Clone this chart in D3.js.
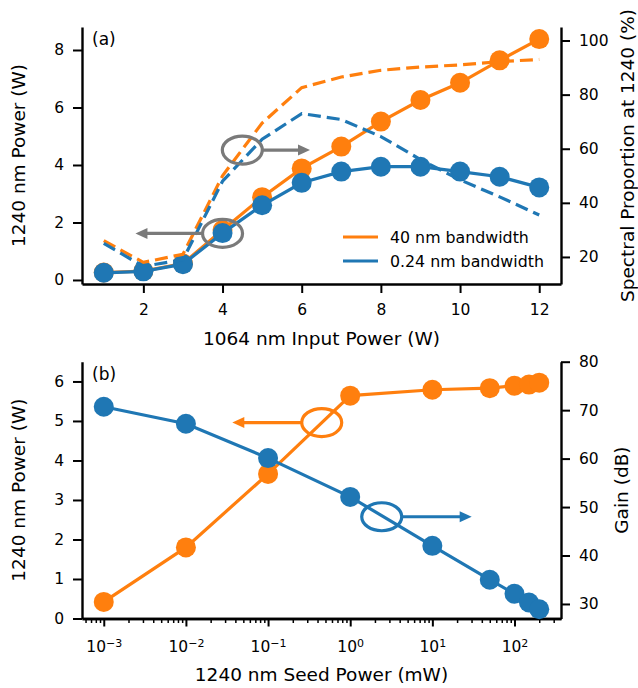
<!DOCTYPE html>
<html>
<head>
<meta charset="utf-8">
<script src="https://d3js.org/d3.v7.min.js"></script>
<style>
body { margin: 0; background: #fff; }
svg text { font-family: "DejaVu Sans", sans-serif; fill: #000; }
</style>
</head>
<body>
<div id="chart"></div>
<script>
// panel (a): 1064 nm pump sweep
var inputPower = [1, 2, 3, 4, 5, 6, 7, 8, 9, 10, 11, 12];
var power40 = [0.26, 0.31, 0.57, 1.74, 2.88, 3.88, 4.64, 5.51, 6.26, 6.86, 7.64, 8.38];
var power024 = [0.25, 0.30, 0.55, 1.63, 2.60, 3.38, 3.77, 3.94, 3.94, 3.77, 3.59, 3.22];
var spectral40 = [26, 18, 21, 50, 69.5, 82.6, 86.5, 89, 90.2, 91, 92.2, 93];
var spectral024 = [25, 16.5, 19, 48, 63.5, 73, 70.8, 64.5, 56, 48.5, 42.2, 35.5];
var xTicksA = [2, 4, 6, 8, 10, 12];
var yTicksA = [0, 2, 4, 6, 8];
var y2TicksA = [20, 40, 60, 80, 100];
var legendNames = ["40 nm bandwidth", "0.24 nm bandwidth"];

// panel (b): 1240 nm seed sweep
var seedPower = [0.001, 0.01, 0.1, 1, 10, 50, 100, 150, 200];
var outPower = [0.42, 1.80, 3.66, 5.64, 5.79, 5.83, 5.89, 5.92, 5.97];
var gainDb = [70.7, 67.2, 60.1, 52.1, 42.0, 35.0, 32.1, 30.3, 28.9];
var xTicksB = [-3, -2, -1, 0, 1, 2];
var yTicksB = [0, 1, 2, 3, 4, 5, 6];
var y2TicksB = [30, 40, 50, 60, 70, 80];

var orange = "#ff7f0e", blue = "#1f77b4", grey = "#7a7a7a";
var W = 638, H = 688;
var left = 82, right = 561;
var topA = {top: 27, bottom: 284};
var topB = {top: 361.7, bottom: 618.5};
var fmt = d3.format("d");

var svg = d3.select("#chart").append("svg")
    .attr("width", W).attr("height", H);

function styleAxis(g, size) {
    g.selectAll(".tick line").attr("stroke", "#000").attr("stroke-width", 2);
    g.selectAll(".domain").attr("stroke", "#000").attr("stroke-width", 2.4);
    g.selectAll("text").style("font-size", size || "15.5px").attr("fill", "#000");
}

function drawNote(g, cx, cy, tipX, color) {
    g.append("ellipse")
        .attr("cx", cx).attr("cy", cy).attr("rx", 20).attr("ry", 14)
        .attr("fill", "none").attr("stroke", color).attr("stroke-width", 3.2);
    var startX = tipX < cx ? cx - 20 : cx + 20;
    var dir = tipX < cx ? 1 : -1;
    g.append("line")
        .attr("x1", startX).attr("y1", cy).attr("x2", tipX + dir * 8).attr("y2", cy)
        .attr("stroke", color).attr("stroke-width", 3.2);
    g.append("path")
        .attr("d", "M" + tipX + "," + cy + " L" + (tipX + dir * 12) + "," + (cy - 5.5) +
            " L" + (tipX + dir * 12) + "," + (cy + 5.5) + " Z")
        .attr("fill", color);
}

// ---------- panel (a) ----------
var x = d3.scaleLinear().domain([0.45, 12.55]).range([left, right]);
var y = d3.scaleLinear().domain([-0.14, 8.8]).range([topA.bottom, topA.top]);
var y2 = d3.scaleLinear().domain([10, 105]).range([topA.bottom, topA.top]);

var a = svg.append("g");
a.append("g")
    .attr("transform", "translate(0," + topA.bottom + ")")
    .call(d3.axisBottom(x).tickValues(xTicksA).tickFormat(fmt).tickSize(9).tickSizeOuter(0).tickPadding(11))
    .call(styleAxis);
a.append("g")
    .attr("transform", "translate(" + left + ",0)")
    .call(d3.axisLeft(y).tickValues(yTicksA).tickFormat(fmt).tickSize(9).tickSizeOuter(0).tickPadding(9))
    .call(styleAxis);
a.append("g")
    .attr("transform", "translate(" + right + ",0)")
    .call(d3.axisRight(y2).tickValues(y2TicksA).tickFormat(fmt).tickSize(9).tickSizeOuter(0).tickPadding(9))
    .call(styleAxis);

var lineA = d3.line().x(function(d, i) { return x(inputPower[i]); });

function solid(g, vals, sc, color) {
    g.append("path").datum(vals)
        .attr("d", lineA.y(function(d) { return sc(d); }))
        .attr("fill", "none").attr("stroke", color).attr("stroke-width", 3.2);
    g.selectAll(null).data(vals).enter().append("circle")
        .attr("cx", function(d, i) { return x(inputPower[i]); })
        .attr("cy", function(d) { return sc(d); })
        .attr("r", 10).attr("fill", color);
}
solid(a, power40, y, orange);
solid(a, power024, y, blue);

[[spectral40, orange], [spectral024, blue]].forEach(function(s) {
    a.append("path").datum(s[0])
        .attr("d", lineA.y(function(d) { return y2(d); }))
        .attr("fill", "none").attr("stroke", s[1]).attr("stroke-width", 3.2)
        .attr("stroke-dasharray", "13,6");
});

drawNote(a, x(4), y(1.62), x(1.8), grey);
drawNote(a, x(4.5), y(4.52), x(6.21), grey);

[orange, blue].forEach(function(c, i) {
    var ly = 237 + i * 24;
    a.append("line").attr("x1", 343).attr("x2", 378).attr("y1", ly).attr("y2", ly)
        .attr("stroke", c).attr("stroke-width", 3.2);
    a.append("text").attr("x", 390).attr("y", ly).attr("dy", "0.36em")
        .style("font-size", "15.8px").text(legendNames[i]);
});

a.append("text").attr("x", 92).attr("y", 45).style("font-size", "17px").text("(a)");
a.append("text").attr("x", (left + right) / 2).attr("y", 345)
    .attr("text-anchor", "middle").style("font-size", "18.5px").text("1064 nm Input Power (W)");
a.append("text").attr("transform", "translate(25," + (topA.top + topA.bottom) / 2 + ") rotate(-90)")
    .attr("text-anchor", "middle").style("font-size", "18.5px").text("1240 nm Power (W)");
a.append("text").attr("transform", "translate(633.5," + (topA.top + topA.bottom) / 2 + ") rotate(-90)")
    .attr("text-anchor", "middle").style("font-size", "18.5px").text("Spectral Proportion at 1240 (%)");

// ---------- panel (b) ----------
var xb = d3.scaleLog().domain([Math.pow(10, -3.265), Math.pow(10, 2.566)]).range([left, right]);
var yb = d3.scaleLinear().domain([0, 6.5]).range([topB.bottom, topB.top]);
var yb2 = d3.scaleLinear().domain([27, 80]).range([topB.bottom, topB.top]);

var minors = [];
for (var e = -4; e <= 2; e++) {
    for (var m = 2; m <= 9; m++) {
        var v = m * Math.pow(10, e);
        if (v > xb.domain()[0] && v < xb.domain()[1]) minors.push(v);
    }
}

var b = svg.append("g");
b.append("g")
    .attr("transform", "translate(0," + topB.bottom + ")")
    .call(d3.axisBottom(xb).tickValues(minors).tickSize(4.5).tickSizeOuter(0).tickFormat(""))
    .call(styleAxis)
    .selectAll(".tick line").attr("stroke-width", 1.5);
var xbAxis = b.append("g")
    .attr("transform", "translate(0," + topB.bottom + ")")
    .call(d3.axisBottom(xb).tickValues(xTicksB.map(function(p) { return Math.pow(10, p); }))
        .tickSize(8).tickSizeOuter(0).tickFormat(""))
    .call(styleAxis);
xbAxis.selectAll(".tick").each(function(d, i) {
    var t = d3.select(this).append("text")
        .attr("y", 33).attr("text-anchor", "middle").style("font-size", "15.5px").attr("fill", "#000");
    t.append("tspan").text("10");
    var p = xTicksB[i];
    t.append("tspan").attr("dy", "-0.42em").style("font-size", "11px")
        .text(p < 0 ? "\u2212" + (-p) : String(p));
});
b.append("g")
    .attr("transform", "translate(" + left + ",0)")
    .call(d3.axisLeft(yb).tickValues(yTicksB).tickFormat(fmt).tickSize(9).tickSizeOuter(0).tickPadding(9))
    .call(styleAxis);
b.append("g")
    .attr("transform", "translate(" + right + ",0)")
    .call(d3.axisRight(yb2).tickValues(y2TicksB).tickFormat(fmt).tickSize(9).tickSizeOuter(0).tickPadding(9))
    .call(styleAxis);

[[outPower, yb, orange], [gainDb, yb2, blue]].forEach(function(s) {
    var ln = d3.line()
        .x(function(d, i) { return xb(seedPower[i]); })
        .y(function(d) { return s[1](d); });
    b.append("path").datum(s[0]).attr("d", ln)
        .attr("fill", "none").attr("stroke", s[2]).attr("stroke-width", 3.2);
    b.selectAll(null).data(s[0]).enter().append("circle")
        .attr("cx", function(d, i) { return xb(seedPower[i]); })
        .attr("cy", function(d) { return s[1](d); })
        .attr("r", 10).attr("fill", s[2]);
});

drawNote(b, xb(0.45), yb(4.96), xb(0.0367), orange);
drawNote(b, xb(2.42), yb2(48), xb(30.1), blue);

b.append("text").attr("x", 92).attr("y", 380).style("font-size", "17px").text("(b)");
b.append("text").attr("x", (left + right) / 2).attr("y", 681)
    .attr("text-anchor", "middle").style("font-size", "18.5px").text("1240 nm Seed Power (mW)");
b.append("text").attr("transform", "translate(25," + (topB.top + topB.bottom) / 2 + ") rotate(-90)")
    .attr("text-anchor", "middle").style("font-size", "18.5px").text("1240 nm Power (W)");
b.append("text").attr("transform", "translate(627.5," + (topB.top + topB.bottom) / 2 + ") rotate(-90)")
    .attr("text-anchor", "middle").style("font-size", "18.5px").text("Gain (dB)");
</script>
</body>
</html>
